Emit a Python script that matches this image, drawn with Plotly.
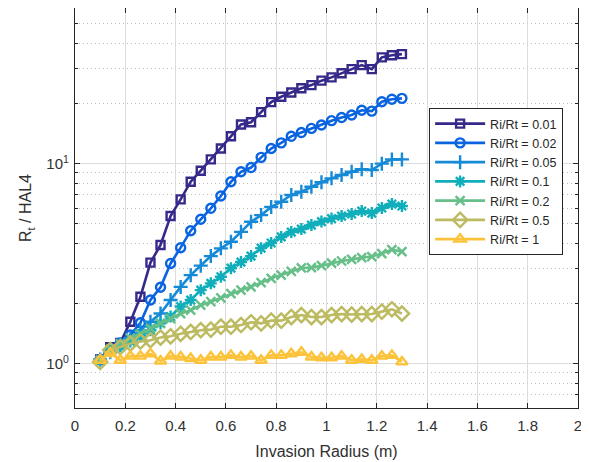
import plotly.graph_objects as go

x_vals = [round(0.1 + 0.04 * i, 2) for i in range(31)]

ratio_labels = ["Ri/Rt = 0.01", "Ri/Rt = 0.02", "Ri/Rt = 0.05", "Ri/Rt = 0.1",
                "Ri/Rt = 0.2", "Ri/Rt = 0.5", "Ri/Rt = 1"]

r_001 = [1.05, 1.21, 1.27, 1.62, 2.16, 3.20, 3.92, 5.47, 6.63, 8.12, 9.22, 10.5, 11.9,
         13.7, 15.7, 16.1, 18.1, 20.3, 21.6, 22.7, 23.8, 24.7, 26.0, 27.0, 28.3, 29.7,
         31.1, 29.7, 34.0, 34.8, 35.3]
r_002 = [1.05, 1.17, 1.27, 1.39, 1.60, 2.08, 2.41, 3.17, 3.80, 4.62, 5.27, 5.98, 6.89,
         8.12, 9.11, 9.56, 10.75, 11.9, 12.7, 13.7, 14.3, 15.0, 15.6, 16.4, 17.0, 17.5,
         18.5, 18.3, 20.4, 21.0, 21.2]
r_005 = [1.05, 1.14, 1.24, 1.34, 1.47, 1.62, 1.78, 2.08, 2.42, 2.77, 3.09, 3.45, 3.77,
         4.07, 4.56, 5.12, 5.53, 6.07, 6.45, 6.97, 7.24, 7.66, 8.07, 8.44, 8.77, 9.11,
         9.37, 9.29, 10.0, 10.5, 10.5]
r_01 = [1.04, 1.17, 1.22, 1.29, 1.37, 1.47, 1.59, 1.72, 1.93, 2.08, 2.33, 2.52, 2.72,
        3.00, 3.22, 3.45, 3.78, 4.01, 4.30, 4.55, 4.71, 4.93, 5.13, 5.31, 5.47, 5.60,
        5.79, 5.66, 6.00, 6.28, 6.14]
r_02 = [1.04, 1.18, 1.26, 1.34, 1.41, 1.50, 1.59, 1.68, 1.78, 1.85, 1.96, 2.04, 2.13,
        2.24, 2.33, 2.42, 2.54, 2.67, 2.77, 2.89, 3.01, 3.02, 3.09, 3.18, 3.26, 3.32,
        3.39, 3.43, 3.55, 3.72, 3.63]
r_05 = [1.02, 1.17, 1.21, 1.26, 1.29, 1.31, 1.35, 1.37, 1.41, 1.44, 1.47, 1.48, 1.53,
        1.53, 1.56, 1.61, 1.59, 1.64, 1.64, 1.71, 1.75, 1.71, 1.71, 1.75, 1.77, 1.76,
        1.77, 1.77, 1.82, 1.87, 1.78]
r_1 = [1.04, 1.13, 1.04, 1.09, 1.09, 1.12, 1.03, 1.09, 1.08, 1.06, 1.04, 1.08, 1.08,
       1.10, 1.08, 1.09, 1.04, 1.10, 1.10, 1.12, 1.14, 1.08, 1.07, 1.07, 1.09, 1.04,
       1.05, 1.04, 1.09, 1.10, 1.02]

series = [r_001, r_002, r_005, r_01, r_02, r_05, r_1]
colors = ["#35298a", "#0a64e0", "#168ad6", "#10aebb", "#66bf88", "#bdbb62", "#fcc33a"]
symbols = ["square-open", "circle-open", "cross-thin-open", "asterisk-open",
           "x-thin-open", "diamond-open", "triangle-up-open"]
sizes = [8, 9, 10, 10, 9, 11, 10]

x_ticks = [0, 0.2, 0.4, 0.6, 0.8, 1, 1.2, 1.4, 1.6, 1.8, 2]
x_tick_text = ["0", "0.2", "0.4", "0.6", "0.8", "1", "1.2", "1.4", "1.6", "1.8", "2"]
y_major = [1, 10]
y_major_text = ["10<sup>0</sup>", "10<sup>1</sup>"]
y_minor = [0.6, 0.7, 0.8, 0.9, 2, 3, 4, 5, 6, 7, 8, 9, 20, 30, 40, 50, 60]

fig = go.Figure()
for lab, ys, c, s, sz in zip(ratio_labels, series, colors, symbols, sizes):
    fig.add_trace(go.Scatter(
        x=x_vals, y=ys, name=lab, mode="lines+markers",
        line=dict(color=c, width=2.6),
        marker=dict(symbol=s, size=sz, color=c, line=dict(color=c, width=2.4)),
    ))

axis_common = dict(
    showline=True, linecolor="#262626", linewidth=1.2, mirror="ticks",
    ticks="inside", ticklen=5, tickcolor="#262626", automargin=False,
    gridcolor="#dcdcdc", gridwidth=1.2, zeroline=False,
    tickfont=dict(family="Liberation Sans, Arial", size=15, color="#303030"),
)

# The page body adds an 8px offset, so the figure is sized to fit the window.
fig.update_layout(
    width=581, height=454,
    margin=dict(l=67, r=11, t=0, b=54),
    paper_bgcolor="white", plot_bgcolor="white",
    showlegend=True,
    legend=dict(x=0.704, y=0.75, xanchor="left", yanchor="top",
                bgcolor="white", bordercolor="#262626", borderwidth=1,
                font=dict(family="Liberation Sans, Arial", size=12.5, color="#262626"),
                itemwidth=50, tracegroupgap=0),
    xaxis=dict(range=[-0.0001, 2.0001], tickvals=x_ticks, ticktext=x_tick_text,
               ticklabelstandoff=4,
               title=dict(text="Invasion Radius (m)", standoff=12,
                          font=dict(family="Liberation Sans, Arial", size=16, color="#303030")),
               **axis_common),
    yaxis=dict(type="log", range=[-0.2218, 1.7782], tickvals=y_major, ticktext=y_major_text,
               ticklabelstandoff=2,
               title=dict(text="R<sub>t</sub> / HAL4", standoff=10,
                          font=dict(family="Liberation Sans, Arial", size=16, color="#303030")),
               minor=dict(tickvals=y_minor, ticks="inside", ticklen=3, tickcolor="#262626",
                          showgrid=True, gridcolor="#bdbdbd", griddash="1px,3px", gridwidth=1),
               **axis_common),
    font=dict(family="Liberation Sans, Arial"),
)

fig.write_html("out.html")
